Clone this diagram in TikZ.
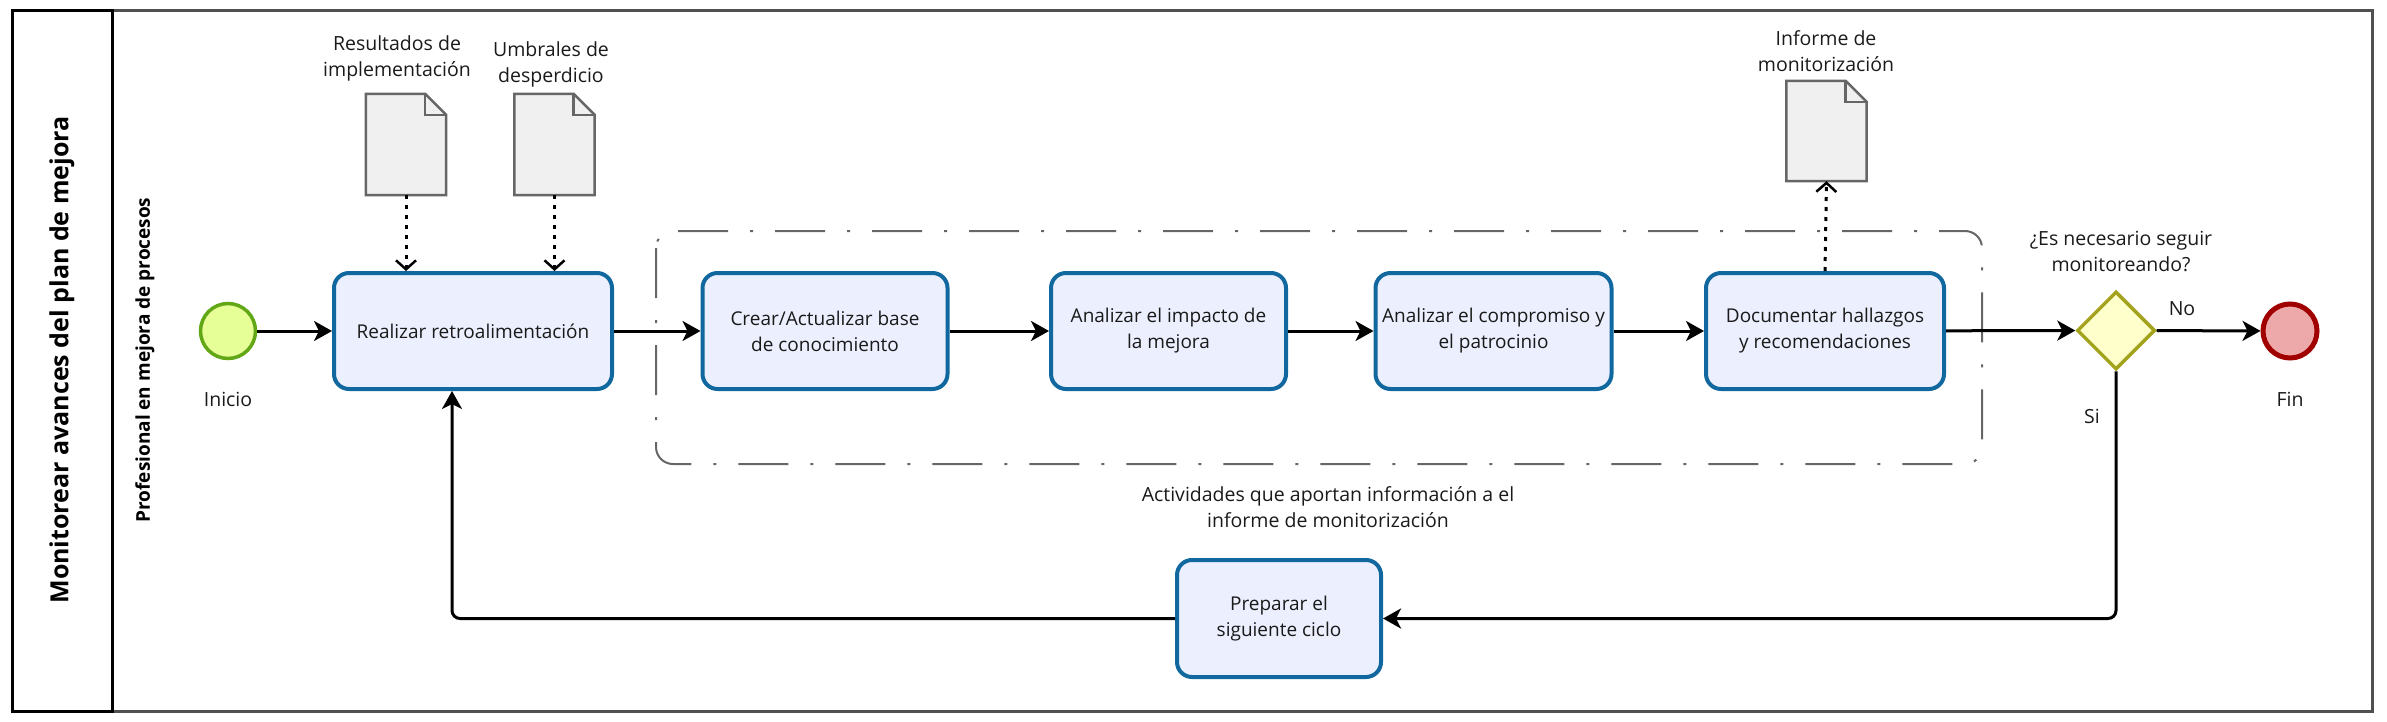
\documentclass[tikz,border=0pt]{standalone}
\usepackage{fontspec}
\setmainfont{Open Sans}
\usetikzlibrary{shapes.geometric,arrows.meta}
\definecolor{taskfill}{HTML}{ECEFFE}
\definecolor{taskdraw}{HTML}{10689F}
\definecolor{startfill}{HTML}{E6FF97}
\definecolor{startdraw}{HTML}{62A716}
\definecolor{endfill}{HTML}{EDA9A9}
\definecolor{enddraw}{HTML}{A10000}
\definecolor{gwfill}{HTML}{FFFFCC}
\definecolor{gwdraw}{HTML}{A3A31E}
\definecolor{docfill}{HTML}{F0F0F0}
\definecolor{docdraw}{HTML}{666666}
\definecolor{framegray}{HTML}{505050}
\definecolor{txt}{HTML}{1A1A1A}
\tikzset{
  lbl/.style={font=\fontsize{19.5}{26}\selectfont, text=txt, align=center, inner sep=0pt},
  taskbox/.style={draw=taskdraw, fill=taskfill, line width=4pt, rounded corners=15pt,
    minimum height=116pt, inner sep=0pt, align=center, text=txt,
    font=\fontsize{19}{26}\selectfont},
  docnode/.style={minimum width=80pt, minimum height=101pt, inner sep=0pt},
  docshape/.style={draw=docdraw, fill=docfill, line width=2.5pt, line join=miter},
  flow/.style={draw=black, line width=3pt, -{Stealth[length=18pt,width=20pt,inset=5pt]}},
  dotflow/.style={draw=black, line width=3pt, dash pattern=on 4pt off 6pt,
    -{Straight Barb[length=9pt,width=20pt,line width=2.5pt]}},
  grp/.style={draw=docdraw, line width=2pt, rounded corners=17pt,
    dash pattern=on 50pt off 22pt on 3pt off 22pt}
}
\begin{document}
\begin{tikzpicture}[x=1pt,y=-1pt]
\useasboundingbox (0,0) rectangle (2387,722);
% pool and lane
\draw[framegray, line width=3pt] (112,11) rectangle (2372,711);
\draw[black, line width=3pt] (12,11) rectangle (112,711);
\node[rotate=90, font=\bfseries\fontsize{25}{30}\selectfont, inner sep=0pt] (pool) at (62,360) {Monitorear avances del plan de mejora};
\node[rotate=90, font=\bfseries\fontsize{19}{23}\selectfont, inner sep=0pt] (lane) at (145,360) {Profesional en mejora de procesos};

% group
\draw[grp] (656,231) rectangle (1982,464);
\node[lbl] (grplbl) at (1328,507) {Actividades que aportan información a el\\informe de monitorización};

% events
\node[circle, draw=startdraw, fill=startfill, line width=3.5pt, minimum size=55pt, inner sep=0pt] (start) at (228,331) {};
\node[lbl, anchor=base] (startlbl) at (228,406.5) {Inicio};
\node[circle, draw=enddraw, fill=endfill, line width=5pt, minimum size=54pt, inner sep=0pt] (end) at (2290,331) {};
\node[lbl, anchor=base] (endlbl) at (2290,406.5) {Fin};

% tasks
\node[taskbox, minimum width=278pt] (t1) at (473,331) {Realizar retroalimentación};
\node[taskbox, minimum width=245pt] (t2) at (825,331) {Crear/Actualizar base\\de conocimiento};
\node[taskbox, minimum width=235pt] (t3) at (1168.5,331) {Analizar el impacto de\\la mejora};
\node[taskbox, minimum width=236pt] (t4) at (1493.5,331) {Analizar el compromiso y\\el patrocinio};
\node[taskbox, minimum width=238pt] (t5) at (1825,331) {Documentar hallazgos\\y recomendaciones};
\node[taskbox, minimum width=204pt, minimum height=117pt] (prep) at (1279,618.5) {Preparar el\\siguiente ciclo};

% gateway
\node[diamond, draw=gwdraw, fill=gwfill, line width=3.5pt, minimum width=78pt, minimum height=78pt, inner sep=0pt] (gw) at (2116,330.5) {};
\node[lbl] (gwlbl) at (2121,251) {¿Es necesario seguir\\monitoreando?};
\node[lbl, anchor=base] (nolbl) at (2182,315) {No};
\node[lbl, anchor=base] (silbl) at (2092,423) {Si};

% documents
\node[docnode] (d1) at (406,144.5) {};
\node[docnode] (d2) at (554.5,144.5) {};
\node[docnode, minimum height=100pt] (d3) at (1826.5,131) {};
\foreach \d in {d1,d2,d3}{
  \draw[docshape] (\d.north west) -- ([xshift=-21pt]\d.north east) -- ([yshift=-21pt]\d.north east) -- (\d.south east) -- (\d.south west) -- cycle;
  \draw[docdraw, line width=2.5pt] ([xshift=-21pt]\d.north east) |- ([yshift=-21pt]\d.north east);
}
\node[lbl] (d1lbl) at (397,58.5) {Resultados de\\implementación};
\node[lbl] (d2lbl) at (551,64.5) {Umbrales de\\desperdicio};
\node[lbl] (d3lbl) at (1826,51) {Informe de\\monitorización};

% flows
\draw[flow] (start) -- (t1);
\draw[flow] (t1) -- (t2);
\draw[flow] (t2) -- (t3);
\draw[flow] (t3) -- (t4);
\draw[flow] (t4) -- (t5);
\draw[flow] (t5) -- (gw);
\draw[flow] (gw) -- (end);
\draw[flow, rounded corners=8pt] (gw.south) |- (prep.east);
\draw[flow, rounded corners=8pt] (prep.west) -| ([xshift=-21pt]t1.south);
\draw[dotflow] (d1.south) -- (d1.south |- t1.north);
\draw[dotflow] (d2.south) -- (d2.south |- t1.north);
\draw[dotflow] (t5.north) -- (d3.south);
\end{tikzpicture}
\end{document}
